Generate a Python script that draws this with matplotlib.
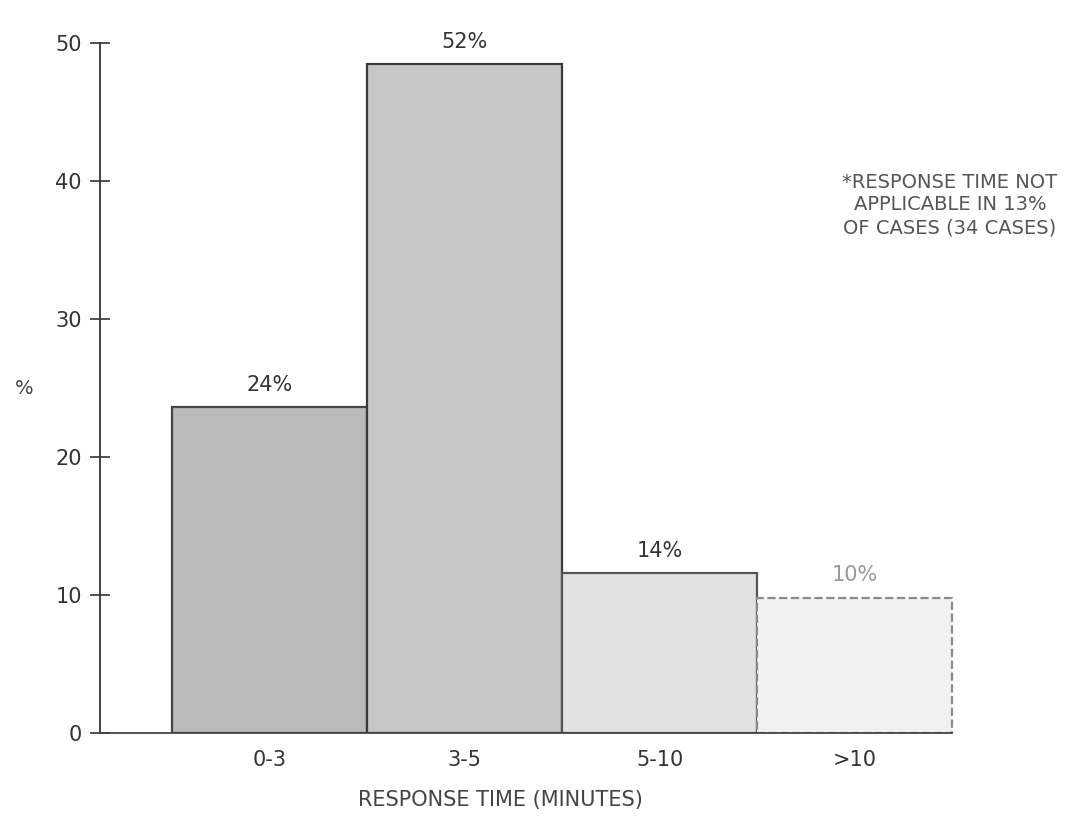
import matplotlib
matplotlib.use("Agg")
import matplotlib.pyplot as plt

categories = ["0-3", "3-5", "5-10", ">10"]
bar_heights = [23.6, 48.5, 11.6, 9.8]
bar_labels = ["24%", "52%", "14%", "10%"]
y_ticks = [0, 10, 20, 30, 40, 50]
note_text = "*RESPONSE TIME NOT\nAPPLICABLE IN 13%\nOF CASES (34 CASES)"

plt.rcParams['font.family'] = ['DejaVu Sans']
W, H = 1073, 823
fig = plt.figure(figsize=(W/100, H/100), dpi=100)
ax = fig.add_axes([100/W, 90/H, (W-100)/W, 731/H])

face = ["#bababa", "#c6c6c6", "#e2e2e2", "#f1f1f1"]
edge = ["#444444", "#3a3a3a", "#555555", "#8a8a8a"]
styles = ["-", "-", "-", "--"]
x = list(range(len(categories)))
for i in x:
    ax.bar(i, bar_heights[i], width=1.0, color=face[i], edgecolor=edge[i],
           linewidth=1.6, linestyle=styles[i], zorder=2)
    ax.text(i, bar_heights[i] + 0.9, bar_labels[i], ha="center", va="bottom",
            fontsize=15, color="#333333" if i < 3 else "#999999")

ax.set_xlim(-0.87, 4.12)
ax.set_ylim(0, 53)
ax.set_yticks(y_ticks)
ax.set_yticklabels([str(t) for t in y_ticks], fontsize=15, color="#333333")
ax.set_xticks(x)
ax.set_xticklabels(categories, fontsize=15, color="#333333")
ax.tick_params(axis="y", direction="inout", length=14, width=1.2, colors="#333333", pad=6)
ax.tick_params(axis="x", length=0, pad=12)
for s in ["top", "right"]:
    ax.spines[s].set_visible(False)
ax.spines["left"].set_color("#333333")
ax.spines["left"].set_linewidth(1.3)
ax.spines["left"].set_bounds(0, 50)
ax.spines["bottom"].set_color("#444444")
ax.spines["bottom"].set_linewidth(1.3)
ax.spines["bottom"].set_bounds(-0.87, 3.5)
ax.patch.set_visible(False)

fig.text(15/W, 1 - 388/H, "%", fontsize=14, color="#444444", ha="left", va="center")
fig.text(500/W, 1 - 800/H, "RESPONSE TIME (MINUTES)", fontsize=15, color="#444444",
         ha="center", va="center")
fig.text(950/W, 1 - 205/H, note_text, fontsize=14, color="#555555",
         ha="center", va="center", linespacing=1.25)

fig.savefig("out.png", dpi=100)
